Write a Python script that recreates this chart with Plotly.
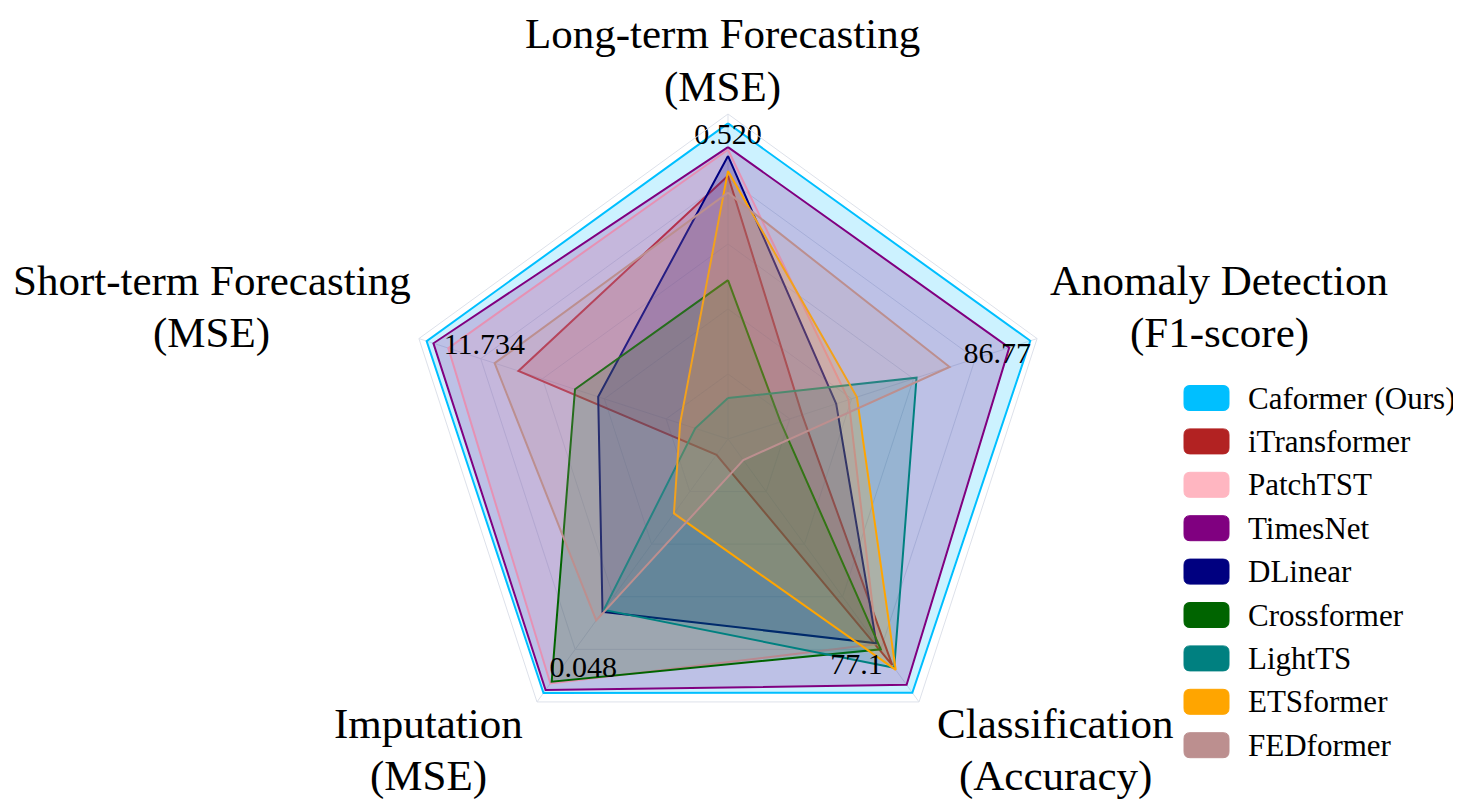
import plotly.graph_objects as go

# axes (clockwise from top)
categories = ['Long-term Forecasting<br>(MSE)', 'Anomaly Detection<br>(F1-score)',
              'Classification<br>(Accuracy)', 'Imputation<br>(MSE)',
              'Short-term Forecasting<br>(MSE)']

# best value per axis, written near each vertex
best_labels = ['0.520', '86.77', '77.1', '0.048', '11.734']

# normalized scores, same order as categories
caformer = [0.971, 0.978, 0.965, 0.966, 0.975]
itransformer = [0.81, 0.24, 0.86, 0.06, 0.678]
patchtst = [0.89, 0.39, 0.78, 0.93, 0.905]
timesnet = [0.898, 0.91, 0.935, 0.955, 0.953]
dlinear = [0.871, 0.35, 0.777, 0.657, 0.42]
crossformer = [0.489, 0.17, 0.80, 0.923, 0.495]
lightts = [0.126, 0.61, 0.87, 0.65, 0.106]
etsformer = [0.825, 0.417, 0.878, 0.283, 0.155]
fedformer = [0.758, 0.717, 0.08, 0.69, 0.755]

models = ['Caformer (Ours)', 'iTransformer', 'PatchTST', 'TimesNet', 'DLinear',
          'Crossformer', 'LightTS', 'ETSformer', 'FEDformer']
scores = [caformer, itransformer, patchtst, timesnet, dlinear,
          crossformer, lightts, etsformer, fedformer]
colors = ['#00BFFF', '#B22222', '#FFB6C1', '#800080', '#000080',
          '#006400', '#008080', '#FFA500', '#BC8F8F']

W, H = 1461, 807
OFF = 8  # page body margin shifts the figure by 8px
SERIF = 'Liberation Serif'


def fx(v):
    return (v - OFF) / W


def fy(v):
    return 1 - (v - OFF) / H


def rgba(hex_color, a):
    h = hex_color.lstrip('#')
    r, g, b = int(h[0:2], 16), int(h[2:4], 16), int(h[4:6], 16)
    return 'rgba({},{},{},{})'.format(r, g, b, a)


fig = go.Figure()

for name, vals, color in zip(models, scores, colors):
    fig.add_trace(go.Scatterpolar(
        r=vals + vals[:1],
        theta=categories + categories[:1],
        mode='lines',
        name=name,
        fill='toself',
        fillcolor=rgba(color, 0.2),
        line=dict(color=color, width=2),
        showlegend=False,
    ))

# best-value labels
label_r = [0.93, 0.98, 0.81, 0.935, 0.92]
label_pos = ['middle center', 'bottom left', 'bottom left', 'top right', 'middle right']
fig.add_trace(go.Scatterpolar(
    r=label_r,
    theta=categories,
    mode='text',
    text=best_labels,
    textposition=label_pos,
    textfont=dict(family=SERIF, size=30, color='black'),
    showlegend=False,
    hoverinfo='skip',
))

# axis titles, centred two-line blocks (screen-pixel centres of each line)
title_xy = [(722, 34), (1219, 280), (1055, 723), (428, 723), (212, 280)]
line_gap = 53
annotations = []
for cat, (px, py) in zip(categories, title_xy):
    for k, line in enumerate(cat.split('<br>')):
        annotations.append(dict(
            text=line, x=fx(px), y=fy(py + k * line_gap),
            xref='paper', yref='paper', xanchor='center', yanchor='middle',
            showarrow=False, font=dict(family=SERIF, size=43, color='black')))

# legend drawn by hand: rounded swatches + labels
shapes = []
leg_x0, leg_x1, leg_y0, leg_gap, sw_h, rad = 1184, 1229, 398, 43.4, 25, 6
for i, (name, color) in enumerate(zip(models, colors)):
    cy = leg_y0 + i * leg_gap
    top, bot = cy - sw_h / 2, cy + sw_h / 2
    path = ('M {},{} L {},{} Q {},{} {},{} L {},{} Q {},{} {},{} L {},{} Q {},{} {},{} '
            'L {},{} Q {},{} {},{} Z').format(
        fx(leg_x0 + rad), fy(top), fx(leg_x1 - rad), fy(top),
        fx(leg_x1), fy(top), fx(leg_x1), fy(top + rad),
        fx(leg_x1), fy(bot - rad),
        fx(leg_x1), fy(bot), fx(leg_x1 - rad), fy(bot),
        fx(leg_x0 + rad), fy(bot),
        fx(leg_x0), fy(bot), fx(leg_x0), fy(bot - rad),
        fx(leg_x0), fy(top + rad),
        fx(leg_x0), fy(top), fx(leg_x0 + rad), fy(top))
    shapes.append(dict(type='path', xref='paper', yref='paper', path=path,
                       fillcolor=color, line=dict(color=color, width=1)))
    annotations.append(dict(
        text=name, x=fx(1246), y=fy(cy), xref='paper', yref='paper',
        xanchor='left', yanchor='middle', showarrow=False,
        font=dict(family=SERIF, size=31, color='black')))

# polar disc: centre (728, 439), radius 325 in screen pixels
cx, cy0, R = 728, 439, 325
fig.update_layout(
    width=W,
    height=H,
    paper_bgcolor='white',
    plot_bgcolor='white',
    margin=dict(l=0, r=0, t=0, b=0),
    font=dict(family=SERIF, color='black'),
    showlegend=False,
    polar=dict(
        domain=dict(x=[fx(cx - R), fx(cx + R)], y=[fy(cy0 + R), fy(cy0 - R)]),
        gridshape='linear',
        bgcolor='white',
        radialaxis=dict(range=[0, 1], dtick=0.2, showticklabels=False, ticks='',
                        showline=False, gridcolor='#dde1ea', gridwidth=1),
        angularaxis=dict(direction='clockwise', rotation=90, ticks='',
                         showticklabels=False,
                         gridcolor='#dde1ea', linecolor='#dde1ea', linewidth=1),
    ),
    annotations=annotations,
    shapes=shapes,
)

fig.write_html('out.html')
